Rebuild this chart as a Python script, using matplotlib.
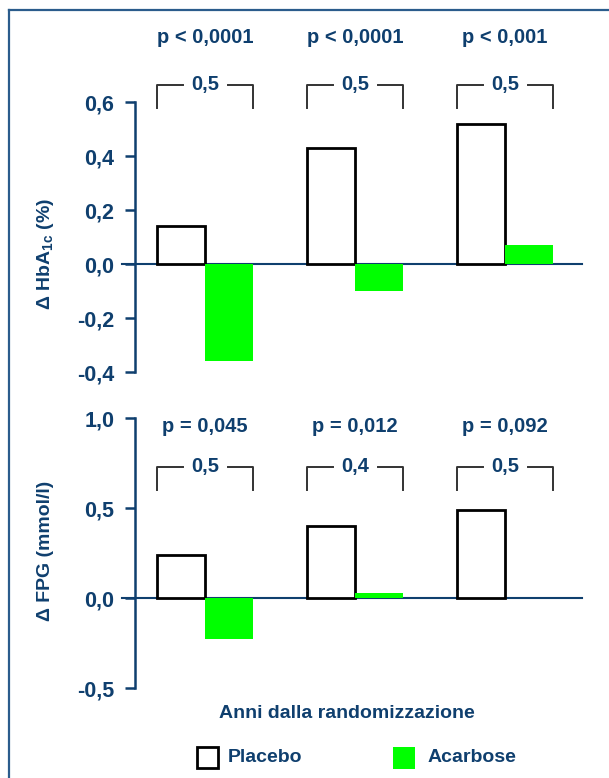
import matplotlib
matplotlib.use("Agg")
import matplotlib.pyplot as plt
import numpy as np
from matplotlib import font_manager

names = {f.name for f in font_manager.fontManager.ttflist}
FAM = ['Liberation Sans Narrow', 'DejaVu Sans'] if 'Liberation Sans Narrow' in names else ['Liberation Sans', 'DejaVu Sans']
plt.rcParams['font.family'] = FAM

# ---- data ----
groups = [0, 1, 2]
hba_placebo = [0.14, 0.43, 0.52]
hba_acarbose = [-0.36, -0.10, 0.07]
hba_diff = ["0,5", "0,5", "0,5"]
hba_p = ["p < 0,0001", "p < 0,0001", "p < 0,001"]
hba_ticks = [-0.4, -0.2, 0.0, 0.2, 0.4, 0.6]
hba_ticklabels = ["-0,4", "-0,2", "0,0", "0,2", "0,4", "0,6"]

fpg_placebo = [0.24, 0.40, 0.49]
fpg_acarbose = [-0.23, 0.03, 0.0]
fpg_diff = ["0,5", "0,4", "0,5"]
fpg_p = ["p = 0,045", "p = 0,012", "p = 0,092"]
fpg_ticks = [-0.5, 0.0, 0.5, 1.0]
fpg_ticklabels = ["-0,5", "0,0", "0,5", "1,0"]

BLUE = '#0f3f6e'
GREEN = '#00ff00'
W, H = 609, 778
fig = plt.figure(figsize=(W / 100, H / 100), dpi=100)

# frame
fig.add_artist(plt.Line2D([9 / W, 9 / W], [0, 1 - 10 / H], color='#2b5c8c', lw=1.6))
fig.add_artist(plt.Line2D([9 / W, 1], [1 - 10 / H, 1 - 10 / H], color='#2b5c8c', lw=1.6))

bw = 0.32
xlim = (-0.467, 2.513)


def panel(rect, plac, acar, diffs, ps, ticks, tlabels, ylabel, br_top, br_bot, p_y, ylabel_y):
    ax = fig.add_axes(rect)
    ax.set_xlim(*xlim)
    ax.set_ylim(ticks[0], ticks[-1])
    x = np.array(groups, dtype=float)
    ax.bar(x - bw / 2, plac, width=bw, facecolor='white', edgecolor='black', lw=2.0, zorder=3)
    ax.bar(x + bw / 2, acar, width=bw, color=GREEN, lw=0, zorder=3)
    ax.plot([-0.029, 1.0], [0, 0], transform=ax.get_yaxis_transform(), color=BLUE, lw=1.5,
            clip_on=False, zorder=2)
    for s in ['top', 'right', 'bottom']:
        ax.spines[s].set_visible(False)
    ax.spines['left'].set_color(BLUE)
    ax.spines['left'].set_linewidth(1.8)
    ax.set_xticks([])
    ax.set_yticks(ticks)
    ax.set_yticklabels(tlabels)
    ax.tick_params(axis='y', direction='out', length=7, width=1.8, color=BLUE, pad=8,
                   labelsize=15.5, labelcolor=BLUE)
    for lab in ax.get_yticklabels():
        lab.set_fontweight('bold')
    for g, d, p in zip(groups, diffs, ps):
        l, r = g - bw, g + bw
        gap = 0.15
        kw = dict(color='#333333', lw=1.4, clip_on=False)
        ax.plot([l, l, g - gap], [br_bot, br_top, br_top], **kw)
        ax.plot([g + gap, r, r], [br_top, br_top, br_bot], **kw)
        ax.text(g, br_top, d, ha='center', va='center', fontsize=14.5, fontweight='bold',
                color=BLUE, clip_on=False)
        ax.text(g, p_y, p, ha='center', va='center', fontsize=14.5, fontweight='bold',
                color=BLUE, clip_on=False)
    fig.text(45 / W, 1 - ylabel_y / H, ylabel, rotation=90, ha='center', va='center',
             fontsize=14, fontweight='bold', color=BLUE)
    return ax


panel([135 / W, (H - 372) / H, 447 / W, 270 / H], hba_placebo, hba_acarbose, hba_diff, hba_p,
      hba_ticks, hba_ticklabels, r'Δ HbA$\mathregular{_{1c}}$ (%)', 0.663, 0.578, 0.84, 254)
panel([135 / W, (H - 688) / H, 447 / W, 270 / H], fpg_placebo, fpg_acarbose, fpg_diff, fpg_p,
      fpg_ticks, fpg_ticklabels, 'Δ FPG (mmol/l)', 0.728, 0.60, 0.95, 551)

fig.text(347 / W, 1 - 713 / H, 'Anni dalla randomizzazione', ha='center', va='center',
         fontsize=14, fontweight='bold', color=BLUE)

# legend
fig.add_artist(plt.Rectangle((197 / W, 1 - 768 / H), 21 / W, 21 / H, facecolor='white',
                             edgecolor='black', lw=2.0))
fig.text(228 / W, 1 - 758 / H, 'Placebo', ha='left', va='center', fontsize=14,
         fontweight='bold', color=BLUE)
fig.add_artist(plt.Rectangle((393 / W, 1 - 769 / H), 22 / W, 22 / H, facecolor=GREEN,
                             edgecolor='none'))
fig.text(428 / W, 1 - 758 / H, 'Acarbose', ha='left', va='center', fontsize=14,
         fontweight='bold', color=BLUE)

fig.savefig('out.png', dpi=100)
